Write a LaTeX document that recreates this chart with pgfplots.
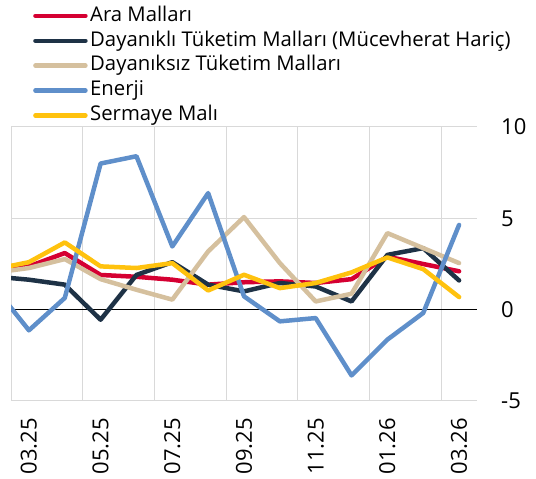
\documentclass[border=0pt]{standalone}
\usepackage{pgfplots}
\pgfplotsset{compat=1.18}
\usepackage{fontspec}
\setmainfont{Open Sans}
\definecolor{cred}{HTML}{D50032}
\definecolor{cnavy}{HTML}{1E3246}
\definecolor{cbeige}{HTML}{D5C09E}
\definecolor{cblue}{HTML}{5F8FCA}
\definecolor{cyellow}{HTML}{FFC20E}
\definecolor{cgrid}{HTML}{D9D9D9}
\begin{document}
\begin{tikzpicture}
\path[use as bounding box] (-11pt,-78pt) rectangle (525pt,401pt);
\begin{axis}[
  at={(0,0)}, anchor=south west,
  scale only axis, width=466pt, height=274pt,
  xmin=-0.5, xmax=12.5, ymin=-5, ymax=10,
  axis line style={draw=none},
  major tick style={draw=none}, minor tick style={draw=none},
  xtick={0,2,4,6,8,10,12},
  xticklabels={03.25,05.25,07.25,09.25,11.25,01.26,03.26},
  minor xtick={-0.5,1.5,3.5,5.5,7.5,9.5,11.5},
  xminorgrids,
  ytick={-5,0,5,10}, yticklabels={-5,0,5,10},
  ymajorgrids,
  grid style={cgrid, line width=1pt},
  minor grid style={cgrid, line width=1pt},
  extra y ticks={0}, extra y tick labels={},
  extra y tick style={grid style={black, line width=0.8pt}},
  yticklabel pos=right,
  ticklabel style={font=\fontsize{22}{26}\selectfont, inner sep=0pt},
  xticklabel style={rotate=90, anchor=east},
  xticklabel shift=17pt,
  yticklabel style={anchor=west},
  yticklabel shift=24pt,
  legend style={at={(0.0472,1.440)}, anchor=north west, draw=none, fill=none,
    inner sep=0pt, row sep=0pt,
    font=\fontsize{20.3}{24}\selectfont,
    nodes={inner xsep=2.5pt, inner ysep=0pt, text height=14.5pt, text depth=10.4pt}},
  legend cell align=left,
  legend image code/.code={\draw[line width=4.5pt] (0pt,0.6ex) -- (50pt,0.6ex);},
  every axis plot/.append style={line width=4.5pt, line join=round, line cap=round},
]
\addplot[cred] coordinates {(-1,2.07)(0,2.37)(1,3.1)(2,1.9)(3,1.8)(4,1.64)(5,1.37)(6,1.5)(7,1.55)(8,1.46)(9,1.67)(10,2.9)(11,2.5)(12,2.1)};
\addlegendentry{Ara Malları}
\addplot[cnavy] coordinates {(-1,1.82)(0,1.64)(1,1.37)(2,-0.55)(3,1.9)(4,2.6)(5,1.37)(6,1.0)(7,1.46)(8,1.27)(9,0.45)(10,3.0)(11,3.37)(12,1.6)};
\addlegendentry{Dayanıklı Tüketim Malları (Mücevherat Hariç)}
\addplot[cbeige] coordinates {(-1,2.02)(0,2.28)(1,2.77)(2,1.67)(3,1.09)(4,0.55)(5,3.19)(6,5.07)(7,2.55)(8,0.45)(9,0.87)(10,4.19)(11,3.37)(12,2.55)};
\addlegendentry{Dayanıksız Tüketim Malları}
\addplot[cblue] coordinates {(-1,1.33)(0,-1.13)(1,0.64)(2,8.0)(3,8.4)(4,3.46)(5,6.38)(6,0.73)(7,-0.64)(8,-0.46)(9,-3.6)(10,-1.64)(11,-0.18)(12,4.64)};
\addlegendentry{Enerji}
\addplot[cyellow] coordinates {(-1,2.2)(0,2.6)(1,3.68)(2,2.37)(3,2.28)(4,2.55)(5,1.05)(6,1.91)(7,1.18)(8,1.46)(9,2.04)(10,2.86)(11,2.22)(12,0.69)};
\addlegendentry{Sermaye Malı}
\end{axis}
\end{tikzpicture}
\end{document}
